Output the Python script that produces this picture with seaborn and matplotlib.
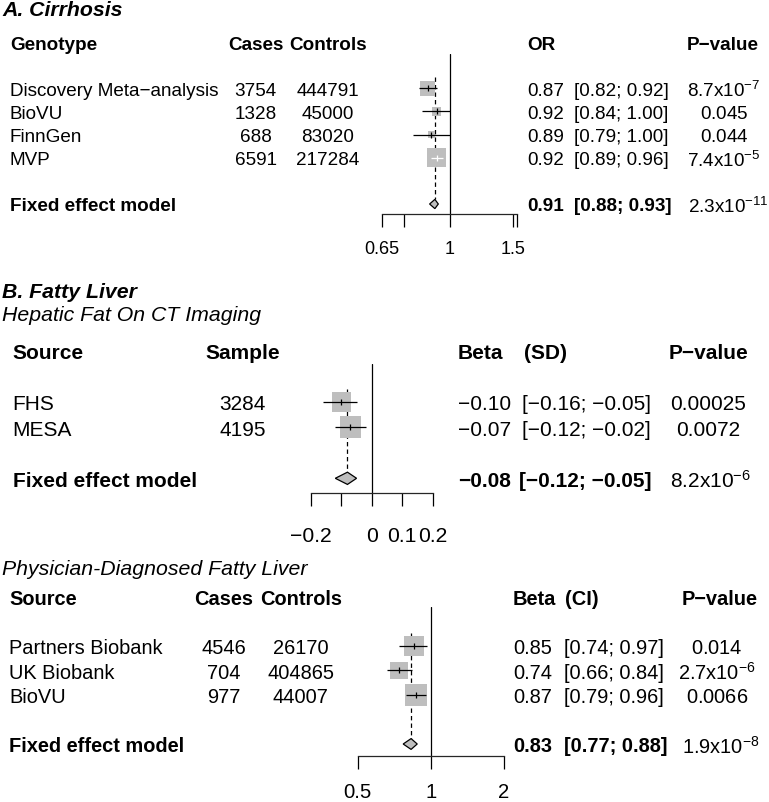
import numpy as np
import matplotlib
matplotlib.use('Agg')
import matplotlib.pyplot as plt
from matplotlib.transforms import blended_transform_factory
import seaborn as sns

# dados
# A. Cirrhosis
a_estudos = ['Discovery Meta\u2212analysis', 'BioVU', 'FinnGen', 'MVP']
a_casos = [3754, 1328, 688, 6591]
a_controles = [444791, 45000, 83020, 217284]
a_or = [0.87, 0.92, 0.89, 0.92]
a_inf = [0.82, 0.84, 0.79, 0.89]
a_sup = [0.92, 1.00, 1.00, 0.96]
a_peso = [30.6, 11.5, 6.9, 51.1]
a_p = ['8.7x10^{\u22127}', '0.045', '0.044', '7.4x10^{\u22125}']
a_fixo = [0.91, 0.88, 0.93]
a_fixo_p = '2.3x10^{-11}'
a_ticks = [0.65, 0.75, 1, 1.5, 1 / 0.65]
a_ticklabels = ['0.65', '', '1', '1.5', '']

# B. Fatty liver - CT
b1_estudos = ['FHS', 'MESA']
b1_amostra = [3284, 4195]
b1_beta = [-0.10, -0.07]
b1_inf = [-0.16, -0.12]
b1_sup = [-0.05, -0.02]
b1_peso = [45.2, 54.8]
b1_p = ['0.00025', '0.0072']
b1_fixo = [-0.08, -0.12, -0.05]
b1_fixo_p = '8.2x10^{-6}'
b1_ticks = [-0.2, -0.1, 0, 0.1, 0.2]
b1_ticklabels = ['\u22120.2', '', '0', '0.1', '0.2']

# B. Fatty liver - diagnostico medico
b2_estudos = ['Partners Biobank', 'UK Biobank', 'BioVU']
b2_casos = [4546, 704, 977]
b2_controles = [26170, 404865, 44007]
b2_beta = [0.85, 0.74, 0.87]
b2_inf = [0.74, 0.66, 0.79]
b2_sup = [0.97, 0.84, 0.96]
b2_peso = [34.7, 25.9, 39.4]
b2_p = ['0.014', '2.7x10^{\u22126}', '0.0066']
b2_fixo = [0.83, 0.77, 0.88]
b2_fixo_p = '1.9x10^{-8}'
b2_ticks = [0.5, 1, 2]
b2_ticklabels = ['0.5', '1', '2']

sns.set_theme(style='white')
plt.rcParams['font.family'] = ['Liberation Sans', 'DejaVu Sans']
plt.rcParams['mathtext.fontset'] = 'custom'
plt.rcParams['mathtext.rm'] = 'Liberation Sans'
plt.rcParams['mathtext.it'] = 'Liberation Sans:italic'
plt.rcParams['mathtext.bf'] = 'Liberation Sans:bold'

W, H = 769, 803
fig = plt.figure(figsize=(W / 100, H / 100), dpi=100)
CINZA = '#BEBEBE'


def eixo_px(x0, x1, topo, eixo, linha0, linha_fixo, n):
    # cria o eixo do forest plot numa caixa em pixels
    ax = fig.add_axes([x0 / W, 1 - eixo / H, (x1 - x0) / W, (eixo - topo) / H])
    passo = (linha_fixo - linha0) / (n + 1)
    ax.set_ylim((eixo - linha0) / passo, (topo - linha0) / passo)
    return ax


def forest(ax, est, inf, sup, peso, fixo, nulo, escala, xlim, ticks, labels,
           lado_max, alt_diam, fs_tick, pad):
    n = len(est)
    if escala == 'log':
        ax.set_xscale('log')
    ax.set_xlim(*xlim)
    ax.set_xticks(ticks)
    ax.set_xticklabels(labels)
    ax.xaxis.set_minor_locator(matplotlib.ticker.NullLocator())
    ax.set_yticks([])
    for s in ['top', 'left', 'right']:
        ax.spines[s].set_visible(False)
    ax.spines['bottom'].set_linewidth(0.9)
    ax.patch.set_alpha(0)
    ax.tick_params(axis='x', direction='out', length=9, width=0.9,
                   labelsize=fs_tick, pad=pad, bottom=True, colors='black')

    ax.axvline(nulo, color='black', lw=0.9, zorder=1)
    linha_fixo = n + 1
    ax.vlines(fixo[0], -0.5, linha_fixo - alt_diam, color='black', lw=0.9,
              linestyles=(0, (3.5, 2.5)), zorder=1)

    linhas = np.arange(n)
    area_max = (lado_max * 0.72) ** 2
    sns.scatterplot(x=est, y=linhas, size=peso, sizes=(0, area_max),
                    size_norm=(0, max(peso)), marker='s', color=CINZA,
                    linewidth=0, legend=False, ax=ax, zorder=2, clip_on=False)

    # linha do IC branca quando fica bem dentro do quadrado
    for i in range(n):
        lado = lado_max * np.sqrt(peso[i] / max(peso))
        xa = ax.transData.transform((inf[i], i))[0]
        xb = ax.transData.transform((sup[i], i))[0]
        cor = 'white' if abs(xb - xa) < 0.85 * lado else 'black'
        ax.hlines(i, inf[i], sup[i], color=cor, lw=0.9, zorder=3)
        ax.plot([est[i]], [i], marker='|', ms=4.5, mew=0.9, color=cor,
                zorder=3, clip_on=False)

    ax.fill([fixo[1], fixo[0], fixo[2], fixo[0]],
            [linha_fixo, linha_fixo - alt_diam, linha_fixo, linha_fixo + alt_diam],
            facecolor=CINZA, edgecolor='black', lw=0.9, zorder=3, clip_on=False)


def texto(ax, x, linha, s, fs, ha='left', peso='normal'):
    tr = blended_transform_factory(fig.transFigure, ax.transData)
    ax.text(x / W, linha, s, transform=tr, fontsize=fs, ha=ha,
            va='center_baseline', fontweight=peso, color='black', clip_on=False)


def titulo(x, y, s, fs, peso='normal', estilo='normal'):
    fig.text(x / W, 1 - y / H, s, fontsize=fs, fontweight=peso, style=estilo,
             va='center_baseline', ha='left', color='black')


def pv(s):
    return r'$\mathregular{' + s + '}$'


# ---------- A. Cirrhosis ----------
titulo(2, 8.5, 'A. Cirrhosis', 15.3, 'bold', 'italic')
axA = eixo_px(382, 517.4, 55, 215, 89.3, 205, 4)
forest(axA, a_or, a_inf, a_sup, a_peso, a_fixo, 1, 'log', (0.65, 1 / 0.65),
       a_ticks, a_ticklabels, 19, 0.2, 13, 9.5)
fsA = 13.6
texto(axA, 10, -2, 'Genotype', fsA, peso='bold')
texto(axA, 256, -2, 'Cases', fsA, 'center', 'bold')
texto(axA, 328, -2, 'Controls', fsA, 'center', 'bold')
texto(axA, 527.7, -2, 'OR', fsA, peso='bold')
texto(axA, 723, -2, 'P\u2212value', fsA, 'center', 'bold')
for i in range(len(a_estudos)):
    texto(axA, 9.5, i, a_estudos[i], fsA)
    texto(axA, 255.5, i, str(a_casos[i]), fsA, 'center')
    texto(axA, 327.5, i, str(a_controles[i]), fsA, 'center')
    texto(axA, 527.7, i, '%.2f' % a_or[i], fsA)
    texto(axA, 574.3, i, '[%.2f; %.2f]' % (a_inf[i], a_sup[i]), fsA)
    texto(axA, 724, i, pv(a_p[i]), fsA, 'center')
rA = len(a_estudos) + 1
texto(axA, 10, rA, 'Fixed effect model', fsA, peso='bold')
texto(axA, 527.7, rA, '%.2f' % a_fixo[0], fsA, peso='bold')
texto(axA, 574.3, rA, '[%.2f; %.2f]' % (a_fixo[1], a_fixo[2]), fsA, peso='bold')
texto(axA, 728, rA, pv(a_fixo_p), fsA, 'center')

# ---------- B. Fatty Liver (CT) ----------
titulo(2, 290, 'B. Fatty Liver', 15.3, 'bold', 'italic')
titulo(2, 314, 'Hepatic Fat On CT Imaging', 15.3, estilo='italic')
axB1 = eixo_px(311, 432.5, 365, 493.5, 402.7, 479.3, 2)
forest(axB1, b1_beta, b1_inf, b1_sup, b1_peso, b1_fixo, 0, 'linear', (-0.2, 0.2),
       b1_ticks, b1_ticklabels, 21.7, 0.24, 15.2, 15)
fsB1 = 15.0
texto(axB1, 12.7, -2, 'Source', fsB1, peso='bold')
texto(axB1, 242.5, -2, 'Sample', fsB1, 'center', 'bold')
texto(axB1, 458, -2, 'Beta', fsB1, peso='bold')
texto(axB1, 524, -2, '(SD)', fsB1, peso='bold')
texto(axB1, 708, -2, 'P\u2212value', fsB1, 'center', 'bold')
fmt = lambda v: ('%.2f' % v).replace('-', '\u2212')
for i in range(len(b1_estudos)):
    texto(axB1, 12.7, i, b1_estudos[i], fsB1)
    texto(axB1, 242.5, i, str(b1_amostra[i]), fsB1, 'center')
    texto(axB1, 458, i, fmt(b1_beta[i]), fsB1)
    texto(axB1, 522.5, i, '[%s; %s]' % (fmt(b1_inf[i]), fmt(b1_sup[i])), fsB1)
    texto(axB1, 708, i, b1_p[i], fsB1, 'center')
rB1 = len(b1_estudos) + 1
texto(axB1, 12.7, rB1, 'Fixed effect model', fsB1, peso='bold')
texto(axB1, 458, rB1, fmt(b1_fixo[0]), fsB1, peso='bold')
texto(axB1, 519, rB1, '[%s; %s]' % (fmt(b1_fixo[1]), fmt(b1_fixo[2])), fsB1, peso='bold')
texto(axB1, 710, rB1, pv(b1_fixo_p), fsB1, 'center')

# ---------- B. Fatty Liver (diagnostico) ----------
titulo(2, 567.5, 'Physician-Diagnosed Fatty Liver', 15.3, estilo='italic')
axB2 = eixo_px(357.7, 503.7, 608, 756.7, 646.7, 745, 3)
forest(axB2, b2_beta, b2_inf, b2_sup, b2_peso, b2_fixo, 1, 'log', (0.5, 2),
       b2_ticks, b2_ticklabels, 21.3, 0.22, 14.6, 10)
fsB2 = 14.4
texto(axB2, 9.3, -2, 'Source', fsB2, peso='bold')
texto(axB2, 224, -2, 'Cases', fsB2, 'center', 'bold')
texto(axB2, 301.5, -2, 'Controls', fsB2, 'center', 'bold')
texto(axB2, 513, -2, 'Beta', fsB2, peso='bold')
texto(axB2, 565, -2, '(CI)', fsB2, peso='bold')
texto(axB2, 720, -2, 'P\u2212value', fsB2, 'center', 'bold')
for i in range(len(b2_estudos)):
    texto(axB2, 9.3, i, b2_estudos[i], fsB2)
    texto(axB2, 224, i, str(b2_casos[i]), fsB2, 'center')
    texto(axB2, 300.5, i, str(b2_controles[i]), fsB2, 'center')
    texto(axB2, 513, i, '%.2f' % b2_beta[i], fsB2)
    texto(axB2, 564, i, '[%.2f; %.2f]' % (b2_inf[i], b2_sup[i]), fsB2)
    texto(axB2, 717, i, pv(b2_p[i]), fsB2, 'center')
rB2 = len(b2_estudos) + 1
texto(axB2, 9.3, rB2, 'Fixed effect model', fsB2, peso='bold')
texto(axB2, 513, rB2, '%.2f' % b2_fixo[0], fsB2, peso='bold')
texto(axB2, 564, rB2, '[%.2f; %.2f]' % (b2_fixo[1], b2_fixo[2]), fsB2, peso='bold')
texto(axB2, 721, rB2, pv(b2_fixo_p), fsB2, 'center')

fig.savefig('out.png', dpi=100, facecolor='white')
